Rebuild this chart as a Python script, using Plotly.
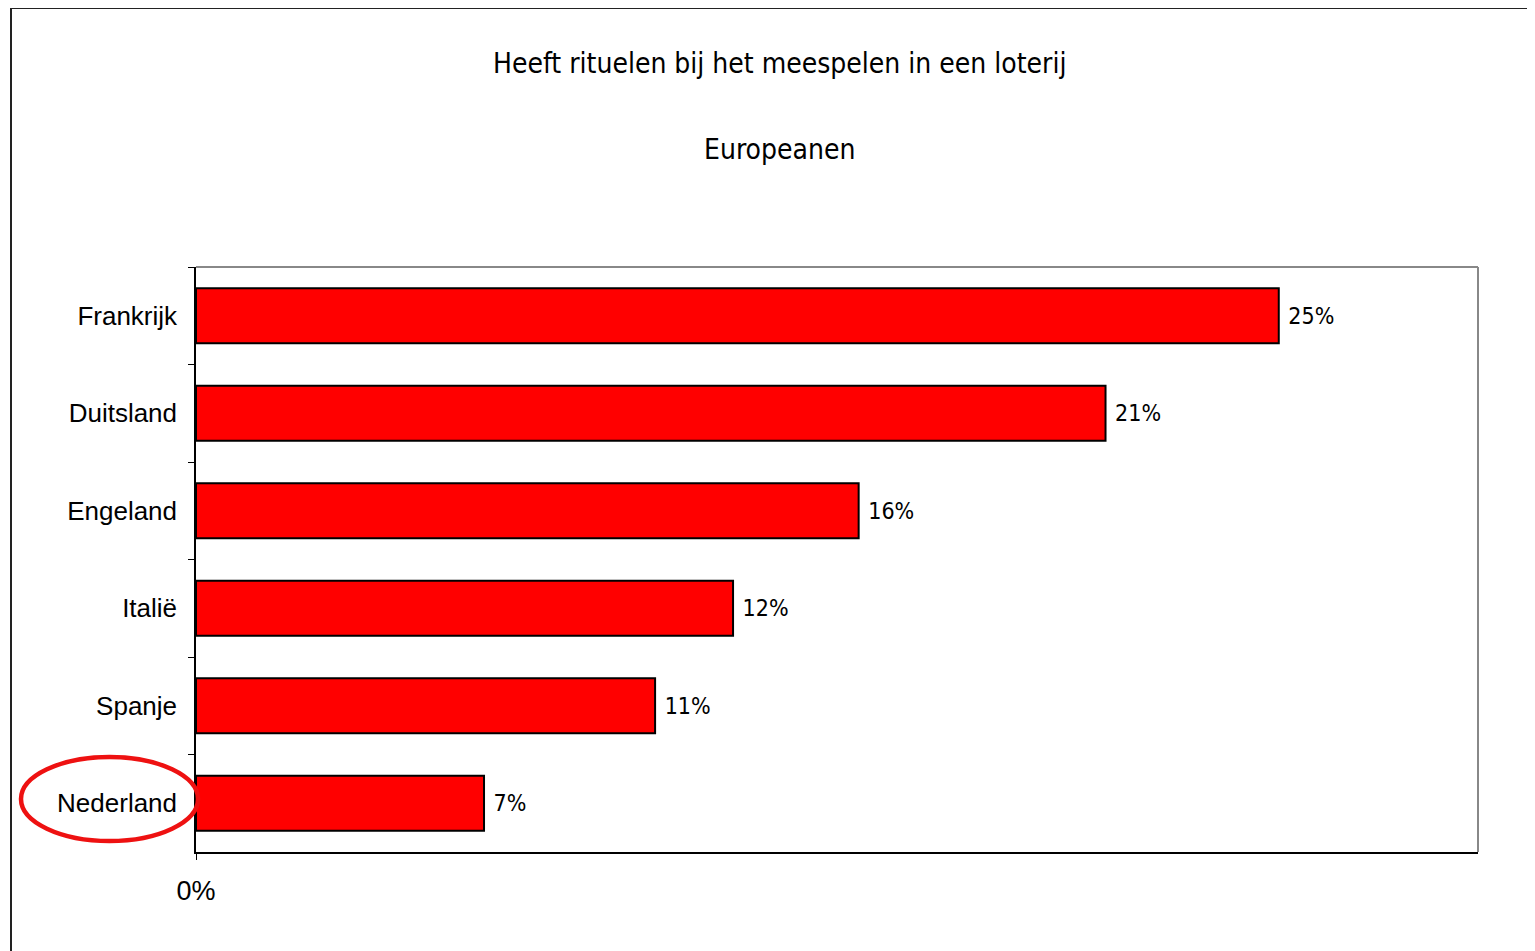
import plotly.graph_objects as go

countries = ["Frankrijk", "Duitsland", "Engeland", "Italië", "Spanje", "Nederland"]
values = [25.0, 21.0, 15.3, 12.4, 10.6, 6.65]
value_labels = ["25%", "21%", "16%", "12%", "11%", "7%"]
title_line1 = "Heeft rituelen bij het meespelen in een loterij"
title_line2 = "Europeanen"
x_tick_vals = [0]
x_tick_text = ["0%"]

OFF = 8  # page body margin
W, H = 1535 - OFF, 951 - OFF
L, R, T, B = 196 - OFF, 1478 - OFF, 267 - OFF, 852 - OFF
pw, ph = R - L, B - T

def px(x):
    return (x - OFF - L) / pw

def py(y):
    return (B - (y - OFF)) / ph

narrow = "Liberation Sans Narrow, Arial Narrow, DejaVu Sans Condensed, sans-serif"
regular = "Liberation Sans, Arial, sans-serif"

fig = go.Figure(go.Bar(
    y=countries, x=values, orientation="h",
    marker=dict(color="#FF0000", line=dict(color="black", width=2)),
    text=[" " + t for t in value_labels], textposition="outside",
    textfont=dict(family=narrow, size=23, color="black"),
    cliponaxis=False, width=0.565,
))

fig.update_layout(
    width=W, height=H,
    margin=dict(l=L, r=W - R, t=T, b=H - B),
    paper_bgcolor="white", plot_bgcolor="white",
    showlegend=False,
    xaxis=dict(range=[0, 29.6], tickvals=x_tick_vals, ticktext=x_tick_text,
               ticks="outside", ticklen=6, tickcolor="black", tickwidth=1,
               showline=True, linecolor="black", linewidth=1.5,
               showgrid=False, zeroline=False, ticklabelstandoff=8,
               tickfont=dict(family=regular, size=27, color="black")),
    yaxis=dict(autorange="reversed", tickson="boundaries",
               ticks="outside", ticklen=6, tickcolor="black", tickwidth=1,
               showline=True, linecolor="black", linewidth=1.5,
               showgrid=False, ticklabelstandoff=12,
               tickfont=dict(family=regular, size=26, color="black")),
    shapes=[
        dict(type="line", xref="paper", yref="paper", x0=0, x1=1, y0=1, y1=1,
             line=dict(color="#888888", width=2)),
        dict(type="line", xref="paper", yref="paper", x0=1, x1=1, y0=0, y1=1,
             line=dict(color="#888888", width=2)),
        dict(type="rect", xref="paper", yref="paper",
             x0=px(11), x1=px(1600), y0=py(1000), y1=py(8),
             line=dict(color="#222222", width=2)),
        dict(type="circle", xref="paper", yref="paper",
             x0=px(21), x1=px(198), y0=py(841), y1=py(757),
             line=dict(color="#EE1111", width=4.5)),
    ],
    annotations=[
        dict(text=title_line1, xref="paper", yref="paper", x=px(779), y=py(64),
             showarrow=False, xanchor="center", yanchor="middle",
             font=dict(family=narrow, size=28, color="black")),
        dict(text=title_line2, xref="paper", yref="paper", x=px(779), y=py(149),
             showarrow=False, xanchor="center", yanchor="middle",
             font=dict(family=narrow, size=28, color="black")),
    ],
)

fig.write_html("out.html")
